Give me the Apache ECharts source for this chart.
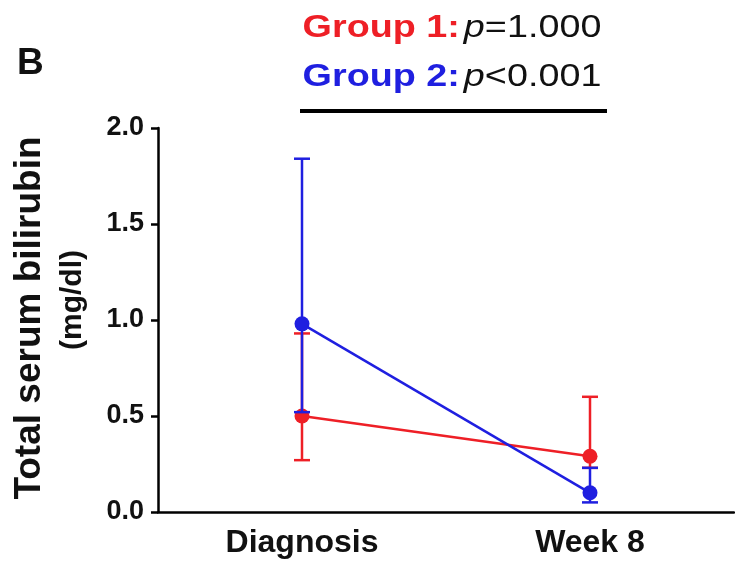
<!DOCTYPE html>
<html><head><meta charset="utf-8">
<script src="https://cdn.jsdelivr.net/npm/echarts@6/dist/echarts.min.js"></script>
<style>html,body{margin:0;padding:0;background:#fff}#c{width:735px;height:568px}</style>
</head><body><div id="c"></div>
<script>
const categories = ['Diagnosis', 'Week 8'];
const group1Mean = [0.50, 0.29];
const group1Low  = [0.27, 0.23];
const group1High = [0.93, 0.60];
const group2Mean = [0.98, 0.10];
const group2Low  = [0.52, 0.05];
const group2High = [1.84, 0.23];
const yTicks = [0, 0.5, 1.0, 1.5, 2.0];

const RED = '#ee1f26', BLUE = '#1f1fe0';
const chart = echarts.init(document.getElementById('c'));

function errSeries(low, high, color, z) {
  return {
    type: 'custom', z: z,
    data: categories.map((c, i) => [i, low[i], high[i]]),
    renderItem: function (params, api) {
      const x = api.value(0);
      const lo = api.coord([x, api.value(1)]);
      const hi = api.coord([x, api.value(2)]);
      const hw = 8;
      const st = { stroke: color, lineWidth: 2.5 };
      return { type: 'group', children: [
        { type: 'line', shape: { x1: lo[0], y1: lo[1], x2: hi[0], y2: hi[1] }, style: st },
        { type: 'line', shape: { x1: lo[0]-hw, y1: lo[1], x2: lo[0]+hw, y2: lo[1] }, style: st },
        { type: 'line', shape: { x1: hi[0]-hw, y1: hi[1], x2: hi[0]+hw, y2: hi[1] }, style: st }
      ]};
    }
  };
}
function lineSeries(mean, color, z) {
  return {
    type: 'line', z: z, data: mean, symbol: 'circle', symbolSize: 15,
    lineStyle: { color: color, width: 2.5 }, itemStyle: { color: color },
    animation: false
  };
}

chart.setOption({
  animation: false,
  grid: { left: 158, right: 1, top: 128, bottom: 56 },
  xAxis: {
    type: 'category', data: categories, boundaryGap: true,
    axisLine: { lineStyle: { color: '#000', width: 2.5 } },
    axisTick: { alignWithLabel: true, length: 9, lineStyle: { color: '#000', width: 2.5 } },
    axisLabel: { color: '#111', fontSize: 32, fontWeight: 'bold', fontFamily: 'Liberation Sans', margin: 15 }
  },
  yAxis: {
    type: 'value', min: 0, max: 2, interval: 0.5,
    axisLine: { show: true, lineStyle: { color: '#000', width: 2.5 } },
    axisTick: { show: true, length: 7, lineStyle: { color: '#000', width: 2.5 } },
    splitLine: { show: false },
    axisLabel: { color: '#111', fontSize: 27, fontWeight: 'bold', fontFamily: 'Liberation Sans', margin: 14,
      formatter: v => yTicks.indexOf(v) >= 0 ? v.toFixed(1) : '' }
  },
  series: [
    errSeries(group1Low, group1High, RED, 1),
    lineSeries(group1Mean, RED, 2),
    errSeries(group2Low, group2High, BLUE, 3),
    lineSeries(group2Mean, BLUE, 4)
  ],
  graphic: [
    { type: 'text', x: 17, y: 64, style: { text: 'B', font: 'bold 37px "Liberation Sans"', fill: '#111', align: 'left', verticalAlign: 'middle' } },
    { type: 'text', x: 30, y: 318, rotation: Math.PI / 2,
      style: { text: 'Total serum bilirubin', font: 'bold 37px "Liberation Sans"', fill: '#111', align: 'center', verticalAlign: 'middle' } },
    { type: 'text', x: 73, y: 300, rotation: Math.PI / 2,
      style: { text: '(mg/dl)', font: 'bold 30px "Liberation Sans"', fill: '#111', align: 'center', verticalAlign: 'middle' } },
    { type: 'text', x: 452, y: 28, scaleX: 1.18,
      style: { text: '{r|Group 1:} {i|p}{n|=1.000}', align: 'center', verticalAlign: 'middle',
        rich: {
          r: { font: 'bold 32px "Liberation Sans"', fill: RED },
          i: { font: 'italic 32px "Liberation Sans"', fill: '#111' },
          n: { font: '32px "Liberation Sans"', fill: '#111' }
        } } },
    { type: 'text', x: 452, y: 77, scaleX: 1.18,
      style: { text: '{r|Group 2:} {i|p}{n|<0.001}', align: 'center', verticalAlign: 'middle',
        rich: {
          r: { font: 'bold 32px "Liberation Sans"', fill: BLUE },
          i: { font: 'italic 32px "Liberation Sans"', fill: '#111' },
          n: { font: '32px "Liberation Sans"', fill: '#111' }
        } } },
    { type: 'line', shape: { x1: 300, y1: 111, x2: 607, y2: 111 }, style: { stroke: '#000', lineWidth: 4 } }
  ]
});
</script></body></html>
